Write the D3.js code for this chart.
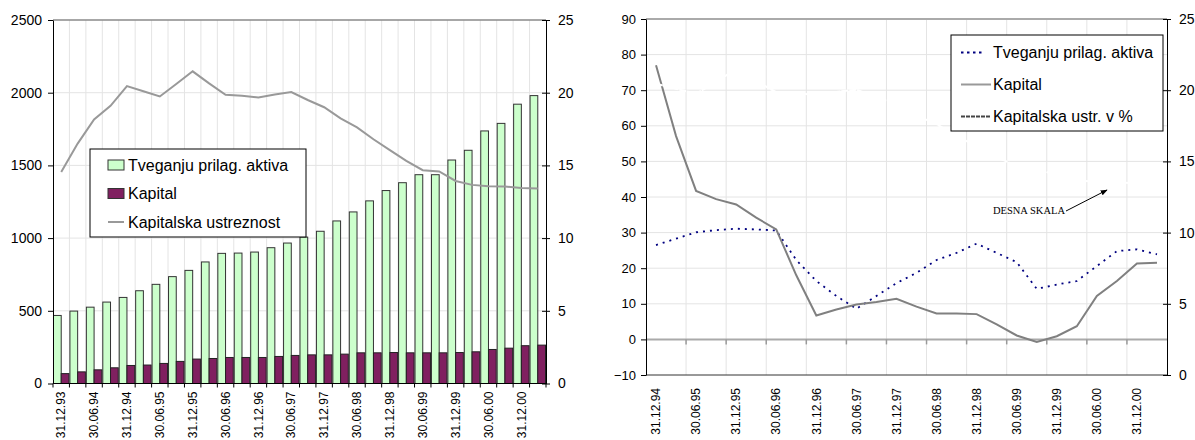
<!DOCTYPE html>
<html>
<head>
<meta charset="utf-8">
<script src="https://cdn.jsdelivr.net/npm/d3@7"></script>
<style>
  body { margin: 0; background: #fff; }
  svg text { font-family: "Liberation Sans", Arial, sans-serif; fill: #000; }
</style>
</head>
<body>
<svg id="chart" width="1195" height="440"></svg>
<script>
// Quarter-end dates, 31.12.93 – 31.03.01
const quarters = [
  "31.12.93","31.03.94","30.06.94","30.09.94","31.12.94","31.03.95","30.06.95","30.09.95",
  "31.12.95","31.03.96","30.06.96","30.09.96","31.12.96","31.03.97","30.06.97","30.09.97",
  "31.12.97","31.03.98","30.06.98","30.09.98","31.12.98","31.03.99","30.06.99","30.09.99",
  "31.12.99","31.03.00","30.06.00","30.09.00","31.12.00","31.03.01"
];
// Risk-weighted assets (left scale)
const riskAssets = [468,498,525,560,592,638,682,735,778,836,895,897,904,934,966,1007,
  1047,1118,1180,1256,1327,1381,1436,1436,1537,1604,1737,1789,1921,1980];
// Capital (left scale)
const capital = [68,80,94,108,124,127,138,152,168,172,179,179,179,186,193,197,
  197,202,211,211,213,211,211,211,213,218,234,243,260,264];
// Capital adequacy ratio, % (right scale)
const adequacy = [14.55,16.5,18.16,19.1,20.45,20.1,19.74,20.6,21.47,20.64,19.86,19.79,19.67,19.88,20.04,19.5,
  19.0,18.23,17.61,16.8,16.05,15.31,14.67,14.58,13.93,13.66,13.57,13.55,13.45,13.41];

// Year-on-year growth panel, 31.12.94 – 31.03.01
const growthQuarters = [
  "31.12.94","31.03.95","30.06.95","30.09.95","31.12.95","31.03.96","30.06.96","30.09.96",
  "31.12.96","31.03.97","30.06.97","30.09.97","31.12.97","31.03.98","30.06.98","30.09.98",
  "31.12.98","31.03.99","30.06.99","30.09.99","31.12.99","31.03.00","30.06.00","30.09.00",
  "31.12.00","31.03.01"
];
const riskAssetsGrowth = [26.5,28.3,30.1,30.7,31.1,30.9,30.6,22.3,16.4,12.2,8.6,12.2,15.8,18.7,22.3,24.3,
  26.9,24.3,21.7,14.2,15.4,16.4,20.6,24.8,25.3,23.9];
const capitalGrowth = [77.0,57.1,41.7,39.4,37.9,34.2,30.9,18.0,6.7,8.4,9.8,10.5,11.4,9.2,7.3,7.3,
  7.1,4.2,1.1,-0.7,0.9,3.7,12.2,16.4,21.3,21.5];
const adequacyPct = [20.45,20.1,19.74,20.6,21.47,20.64,19.86,19.79,19.67,19.88,20.04,19.5,
  19.0,18.23,17.61,16.8,16.05,15.31,14.67,14.58,13.93,13.66,13.57,13.55,13.45,13.41];

// Tick values
const amountTicks = [0,500,1000,1500,2000,2500];
const ratioTicks = [0,5,10,15,20,25];
const growthTicks = [-10,0,10,20,30,40,50,60,70,80,90];

const GRID = "#e4e4e4";
const svg = d3.select("#chart");

function styleAxis(g, size) {
  g.attr("font-family", null).attr("font-size", null);
  g.selectAll("text").style("font-size", size + "px");
  g.select(".domain").attr("stroke", "#000");
  g.selectAll(".tick line").attr("stroke", "#000");
}

/* ---------------- Left panel: amounts and capital adequacy ---------------- */
{
  const x0 = 53, x1 = 546, yb = 383.5, yt = 20;
  const x = d3.scaleBand().domain(quarters).range([x0, x1]);
  const y = d3.scaleLinear().domain([0, 2500]).range([yb, yt]);
  const yr = d3.scaleLinear().domain([0, 25]).range([yb, yt]);
  const bw = x.bandwidth();
  const g = svg.append("g");

  // vertical grid at category boundaries
  g.append("g").selectAll("line").data(quarters.slice(1)).join("line")
    .attr("x1", d => x(d)).attr("x2", d => x(d))
    .attr("y1", yt).attr("y2", yb).attr("stroke", GRID);
  // horizontal grid
  g.append("g").selectAll("line").data(amountTicks.slice(1, -1)).join("line")
    .attr("x1", x0).attr("x2", x1)
    .attr("y1", d => y(d)).attr("y2", d => y(d)).attr("stroke", GRID);
  // top frame
  g.append("line").attr("x1", x0).attr("x2", x1).attr("y1", yt).attr("y2", yt)
    .attr("stroke", "#8a8a8a").attr("stroke-width", 1.5);

  // bars
  const inner = bw * 0.94, barW = inner / 2, off = (bw - inner) / 2;
  g.append("g").selectAll("rect").data(riskAssets).join("rect")
    .attr("x", (d, i) => x(quarters[i]) + off)
    .attr("y", d => y(d))
    .attr("width", barW)
    .attr("height", d => yb - y(d))
    .attr("fill", "#ccffcc").attr("stroke", "#333").attr("stroke-width", 1);
  g.append("g").selectAll("rect").data(capital).join("rect")
    .attr("x", (d, i) => x(quarters[i]) + off + barW)
    .attr("y", d => y(d))
    .attr("width", barW)
    .attr("height", d => yb - y(d))
    .attr("fill", "#802060").attr("stroke", "#222").attr("stroke-width", 1);

  // capital adequacy line
  g.append("path").datum(adequacy)
    .attr("d", d3.line().x((d, i) => x(quarters[i]) + bw / 2).y(d => yr(d)))
    .attr("fill", "none").attr("stroke", "#999").attr("stroke-width", 2);

  // axes
  const ax = g.append("g").attr("transform", `translate(${x0},0)`)
    .call(d3.axisLeft(y).tickValues(amountTicks).tickFormat(d3.format("d"))
      .tickSize(5).tickPadding(6).tickSizeOuter(0));
  styleAxis(ax, 14);
  const axr = g.append("g").attr("transform", `translate(${x1},0)`)
    .call(d3.axisRight(yr).tickValues(ratioTicks).tickFormat(d3.format("d"))
      .tickSize(4).tickPadding(8).tickSizeOuter(0));
  styleAxis(axr, 14);
  axr.selectAll(".tick line").attr("x1", -4);

  // category axis
  g.append("line").attr("x1", x0).attr("x2", x1).attr("y1", yb).attr("y2", yb).attr("stroke", "#000");
  g.append("g").selectAll("line").data(quarters.concat([null])).join("line")
    .attr("x1", (d, i) => x0 + i * bw).attr("x2", (d, i) => x0 + i * bw)
    .attr("y1", yb).attr("y2", yb + 4).attr("stroke", "#000");
  g.append("g").selectAll("text").data(quarters.filter((d, i) => i % 2 === 0)).join("text")
    .attr("transform", d => `translate(${x(d) + bw / 2},${yb + 8}) rotate(-90)`)
    .attr("text-anchor", "end").attr("dy", "0.35em")
    .style("font-size", "12px").text(d => d);

  // legend
  const lg = g.append("g").attr("transform", "translate(90,149)");
  lg.append("rect").attr("width", 216).attr("height", 88)
    .attr("fill", "#fff").attr("stroke", "#000").attr("stroke-width", 1);
  const items = [
    { label: "Tveganju prilag. aktiva", type: "box", fill: "#ccffcc" },
    { label: "Kapital", type: "box", fill: "#802060" },
    { label: "Kapitalska ustreznost", type: "line" }
  ];
  items.forEach((it, i) => {
    const cy = 16 + i * 28.5;
    if (it.type === "box") {
      lg.append("rect").attr("x", 18).attr("y", cy - 5).attr("width", 16).attr("height", 10)
        .attr("fill", it.fill).attr("stroke", "#333");
    } else {
      lg.append("line").attr("x1", 18).attr("x2", 34).attr("y1", cy).attr("y2", cy)
        .attr("stroke", "#999").attr("stroke-width", 2);
    }
    lg.append("text").attr("x", 38).attr("y", cy).attr("dy", "0.35em")
      .style("font-size", "16px").text(it.label);
  });
}

/* ---------------- Right panel: annual growth rates ---------------- */
{
  const x0 = 646, x1 = 1167, yb = 375, yt = 19;
  const x = d3.scaleBand().domain(growthQuarters).range([x0, x1]);
  const y = d3.scaleLinear().domain([-10, 90]).range([yb, yt]);
  const yr = d3.scaleLinear().domain([0, 25]).range([yb, yt]);
  const bw = x.bandwidth();
  const g = svg.append("g");

  const every2 = growthQuarters.filter((d, i) => i % 2 === 0);
  // vertical grid every two quarters
  g.append("g").selectAll("line").data(every2.slice(1)).join("line")
    .attr("x1", d => x(d)).attr("x2", d => x(d))
    .attr("y1", yt).attr("y2", yb).attr("stroke", GRID);
  // horizontal grid
  g.append("g").selectAll("line").data(growthTicks.filter(v => v !== 0 && v !== -10 && v !== 90)).join("line")
    .attr("x1", x0).attr("x2", x1)
    .attr("y1", d => y(d)).attr("y2", d => y(d)).attr("stroke", GRID);
  // frame: top and bottom
  g.append("line").attr("x1", x0).attr("x2", x1).attr("y1", yt).attr("y2", yt)
    .attr("stroke", "#aaa").attr("stroke-width", 2);
  g.append("line").attr("x1", x0).attr("x2", x1).attr("y1", yb).attr("y2", yb)
    .attr("stroke", "#333").attr("stroke-width", 1);
  // zero line with category ticks
  g.append("line").attr("x1", x0).attr("x2", x1).attr("y1", y(0)).attr("y2", y(0))
    .attr("stroke", "#aaa").attr("stroke-width", 2);
  g.append("g").selectAll("line").data(every2.slice(1)).join("line")
    .attr("x1", d => x(d)).attr("x2", d => x(d))
    .attr("y1", y(0)).attr("y2", y(0) + 5).attr("stroke", "#999").attr("stroke-width", 1.5);

  const lineGen = d3.line().x((d, i) => x(growthQuarters[i]) + bw / 2);

  g.append("path").datum(riskAssetsGrowth)
    .attr("d", lineGen.y(d => y(d)))
    .attr("fill", "none").attr("stroke", "#000080").attr("stroke-width", 1.8)
    .attr("stroke-dasharray", "2,5");
  g.append("path").datum(capitalGrowth)
    .attr("d", lineGen.y(d => y(d)))
    .attr("fill", "none").attr("stroke", "#808080").attr("stroke-width", 2);
  g.append("path").datum(adequacyPct)
    .attr("d", lineGen.y(d => yr(d)))
    .attr("fill", "none").attr("stroke", "#fff").attr("stroke-width", 2)
    .attr("stroke-dasharray", "7,1");

  // axes
  const ax = g.append("g").attr("transform", `translate(${x0},0)`)
    .call(d3.axisLeft(y).tickValues(growthTicks).tickFormat(d3.format("d"))
      .tickSize(5).tickPadding(5).tickSizeOuter(0));
  styleAxis(ax, 13);
  const axr = g.append("g").attr("transform", `translate(${x1},0)`)
    .call(d3.axisRight(yr).tickValues(ratioTicks).tickFormat(d3.format("d"))
      .tickSize(4).tickPadding(8).tickSizeOuter(0));
  styleAxis(axr, 14);
  axr.selectAll(".tick line").attr("x1", -4);

  g.append("g").selectAll("text").data(every2).join("text")
    .attr("transform", d => `translate(${x(d) + bw / 2},${yb + 13}) rotate(-90)`)
    .attr("text-anchor", "end").attr("dy", "0.35em")
    .style("font-size", "12px").text(d => d);

  // annotation pointing to the right-hand scale
  svg.append("defs").append("marker")
    .attr("id", "arrow").attr("viewBox", "0 0 10 10").attr("refX", 9).attr("refY", 5)
    .attr("markerWidth", 7).attr("markerHeight", 7).attr("orient", "auto")
    .append("path").attr("d", "M0,1 L10,5 L0,9 Z").attr("fill", "#000");
  g.append("text").attr("x", 1065).attr("y", 210).attr("text-anchor", "end").attr("dy", "0.35em")
    .style("font-family", "'Liberation Serif', 'Times New Roman', serif")
    .style("font-size", "10.5px").text("DESNA SKALA");
  g.append("line").attr("x1", 1066).attr("y1", 211).attr("x2", 1107).attr("y2", 190)
    .attr("stroke", "#000").attr("stroke-width", 1).attr("marker-end", "url(#arrow)");

  // legend
  const lg = g.append("g").attr("transform", "translate(951,35)");
  lg.append("rect").attr("width", 212).attr("height", 96)
    .attr("fill", "#fff").attr("stroke", "#000").attr("stroke-width", 1);
  const items = [
    { label: "Tveganju prilag. aktiva", stroke: "#000080", dash: "2.5,3.5", x2: 34 },
    { label: "Kapital", stroke: "#999", dash: null, x2: 40 },
    { label: "Kapitalska ustr. v %", stroke: "#444", dash: "4,1", x2: 40 }
  ];
  items.forEach((it, i) => {
    const cy = 17.5 + i * 32;
    lg.append("line").attr("x1", 10).attr("x2", it.x2).attr("y1", cy).attr("y2", cy)
      .attr("stroke", it.stroke).attr("stroke-width", 2)
      .attr("stroke-dasharray", it.dash);
    lg.append("text").attr("x", 42).attr("y", cy).attr("dy", "0.35em")
      .style("font-size", "16px").text(it.label);
  });
}
</script>
</body>
</html>
